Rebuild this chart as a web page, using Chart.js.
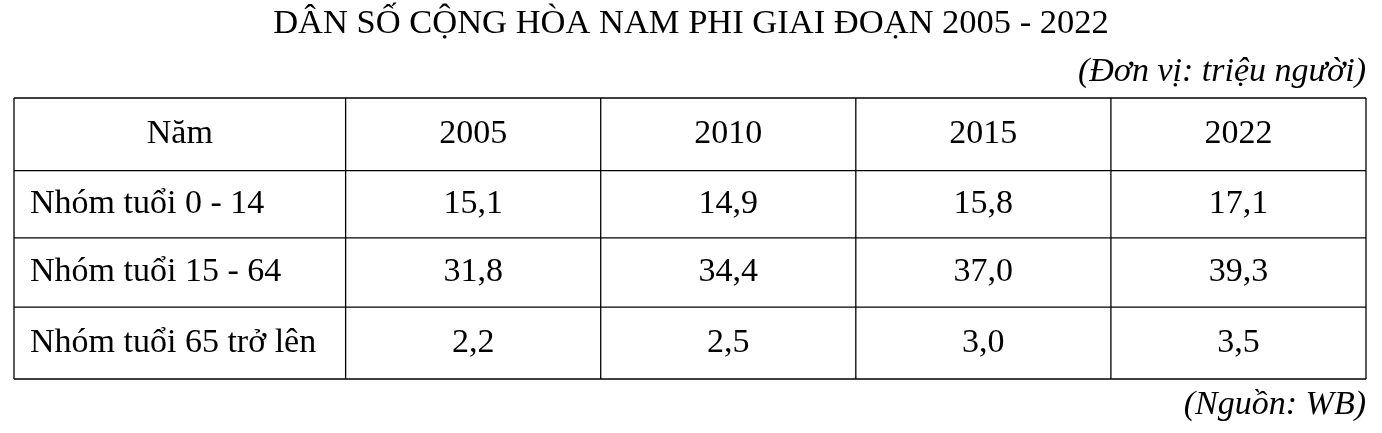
<!DOCTYPE html>
<html>
<head>
<meta charset="utf-8">
<script src="https://cdn.jsdelivr.net/npm/chart.js@4"></script>
<style>
  html, body { margin: 0; padding: 0; background: #fff; }
  #wrap { width: 1382px; height: 433px; }
</style>
</head>
<body>
<div id="wrap"><canvas id="tbl"></canvas></div>
<script>
const titleText = 'DÂN SỐ CỘNG HÒA NAM PHI GIAI ĐOẠN 2005 - 2022';
const unitText = '(Đơn vị: triệu người)';
const sourceText = '(Nguồn: WB)';
const headerLabel = 'Năm';
const years = ['2005', '2010', '2015', '2022'];
const rowLabels = ['Nhóm tuổi 0 - 14', 'Nhóm tuổi 15 - 64', 'Nhóm tuổi 65 trở lên'];
const age0to14 = [15.1, 14.9, 15.8, 17.1];
const age15to64 = [31.8, 34.4, 37.0, 39.3];
const age65plus = [2.2, 2.5, 3.0, 3.5];

const series = [age0to14, age15to64, age65plus];
// column edges in x units (first column wider)
const colEdges = [0, 1.3, 2.3, 3.3, 4.3, 5.3];
const rowEdges = [0, 1.06, 2.04, 3.05, 4.1];

function fmt(v) { return v.toFixed(1).replace('.', ','); }

const tablePlugin = {
    id: 'tablePlugin',
    afterDraw(chart) {
        const ctx = chart.ctx;
        const xs = chart.scales.x, ys = chart.scales.y;
        const X = v => xs.getPixelForValue(v);
        const Y = v => ys.getPixelForValue(v);
        const font = '"Liberation Serif", "Times New Roman", serif';
        ctx.save();
        ctx.fillStyle = '#000';
        ctx.textBaseline = 'middle';

        // title and notes
        ctx.font = '34.5px ' + font;
        ctx.textAlign = 'center';
        ctx.fillText(titleText, 691, 24);
        ctx.font = 'italic 34px ' + font;
        ctx.textAlign = 'right';
        ctx.fillText(unitText, 1366, 72);
        ctx.fillText(sourceText, 1366, 405);

        // grid
        ctx.strokeStyle = '#000';
        ctx.lineWidth = 1.3;
        colEdges.forEach(c => {
            ctx.beginPath(); ctx.moveTo(X(c), Y(0)); ctx.lineTo(X(c), Y(4.1)); ctx.stroke();
        });
        rowEdges.forEach(r => {
            ctx.beginPath(); ctx.moveTo(X(0), Y(r)); ctx.lineTo(X(5.3), Y(r)); ctx.stroke();
        });

        ctx.font = '34px ' + font;
        const mid = i => (rowEdges[i] + rowEdges[i + 1]) / 2;
        const cmid = j => (colEdges[j] + colEdges[j + 1]) / 2;
        // header
        ctx.textAlign = 'center';
        ctx.fillText(headerLabel, X(cmid(0)), Y(mid(0)));
        years.forEach((y, j) => ctx.fillText(y, X(cmid(j + 1)), Y(mid(0))));
        // body
        rowLabels.forEach((lab, i) => {
            ctx.textAlign = 'left';
            ctx.fillText(lab, X(0) + 16, Y(mid(i + 1)));
            ctx.textAlign = 'center';
            series[i].forEach((v, j) => ctx.fillText(fmt(v), X(cmid(j + 1)), Y(mid(i + 1))));
        });
        ctx.restore();
    }
};

new Chart(document.getElementById('tbl').getContext('2d'), {
    type: 'scatter',
    data: { datasets: [{ data: [] }] },
    options: {
        responsive: true,
        maintainAspectRatio: false,
        animation: false,
        layout: { padding: { left: 14, right: 16, top: 98, bottom: 54 } },
        scales: {
            x: { type: 'linear', min: 0, max: 5.3, display: false },
            y: { type: 'linear', min: 0, max: 4.1, reverse: true, display: false }
        },
        plugins: { legend: { display: false }, tooltip: { enabled: false } }
    },
    plugins: [tablePlugin]
});
</script>
</body>
</html>
